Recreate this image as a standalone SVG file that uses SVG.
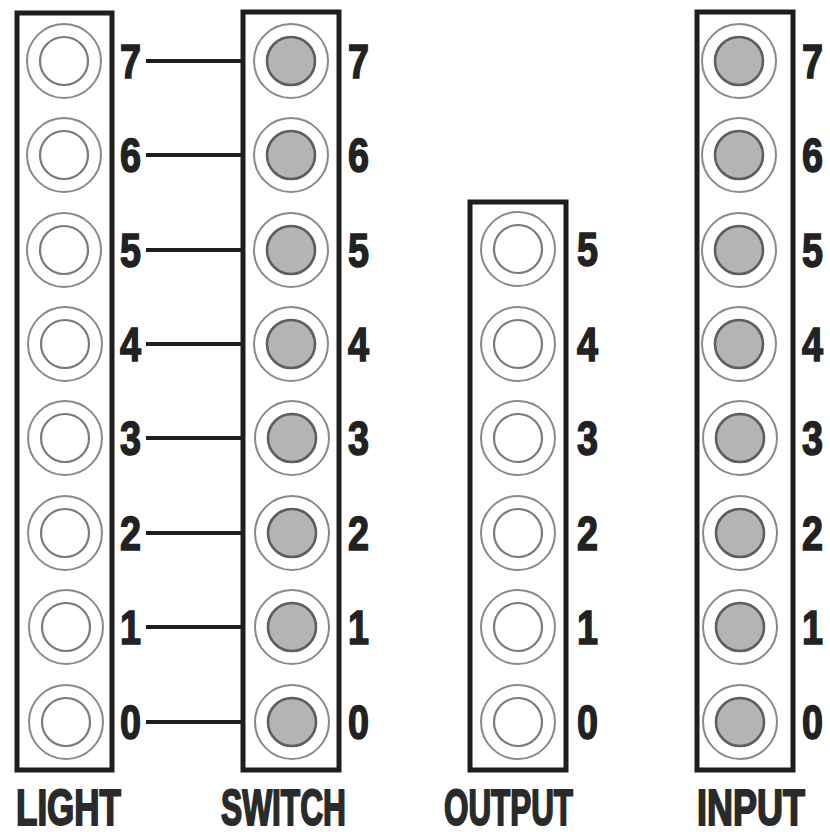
<svg xmlns="http://www.w3.org/2000/svg" width="830" height="832" viewBox="0 0 830 832">
  <style>
    .box { fill: #ffffff; stroke: #1e1e1e; stroke-width: 5; }
    .ring { fill: #ffffff; stroke: #8a8a8a; stroke-width: 2; }
    .hole { fill: #ffffff; stroke: #7a7a7a; stroke-width: 2.2; }
    .lamp { fill: #b4b4b4; stroke: #5e5e5e; stroke-width: 2.6; }
    .num { font-family: "Liberation Sans", Arial, sans-serif; font-weight: bold; font-size: 49px; fill: #222222; stroke: #222222; stroke-width: 1.6; }
    .title { font-family: "Liberation Sans", Arial, sans-serif; font-weight: bold; font-size: 50px; fill: #2a2a2a; stroke: #2a2a2a; stroke-width: 2; }
    .wire { stroke: #1e1e1e; stroke-width: 4; fill: none; }
  </style>
  <defs>
    <g id="emptyCell">
      <circle class="ring" r="37"/>
      <circle class="hole" r="24"/>
    </g>
    <g id="litCell">
      <circle class="ring" r="37"/>
      <circle class="lamp" r="24"/>
    </g>
  </defs>
  <rect width="830" height="832" fill="#ffffff"/>

  <!-- wires between LIGHT labels and SWITCH panel -->
  <g id="connectors">
    <line class="wire" x1="146" y1="61" x2="243" y2="61"/>
    <line class="wire" x1="146" y1="155" x2="243" y2="155"/>
    <line class="wire" x1="146" y1="250" x2="243" y2="250"/>
    <line class="wire" x1="146" y1="344" x2="243" y2="344"/>
    <line class="wire" x1="146" y1="438" x2="243" y2="438"/>
    <line class="wire" x1="146" y1="533" x2="243" y2="533"/>
    <line class="wire" x1="146" y1="627" x2="243" y2="627"/>
    <line class="wire" x1="146" y1="722" x2="243" y2="722"/>
  </g>

  <!-- LIGHT panel -->
  <g id="light">
    <rect class="box" x="17" y="13" width="95" height="757"/>
    <use href="#emptyCell" x="64" y="61"/>
    <use href="#emptyCell" x="64" y="155"/>
    <use href="#emptyCell" x="64" y="250"/>
    <use href="#emptyCell" x="65" y="344"/>
    <use href="#emptyCell" x="65" y="438"/>
    <use href="#emptyCell" x="65" y="533"/>
    <use href="#emptyCell" x="66" y="627"/>
    <use href="#emptyCell" x="66" y="722"/>
    <text class="num" x="120" y="78" textLength="21" lengthAdjust="spacingAndGlyphs">7</text>
    <text class="num" x="120" y="172" textLength="21" lengthAdjust="spacingAndGlyphs">6</text>
    <text class="num" x="120" y="267" textLength="21" lengthAdjust="spacingAndGlyphs">5</text>
    <text class="num" x="120" y="361" textLength="21" lengthAdjust="spacingAndGlyphs">4</text>
    <text class="num" x="120" y="455" textLength="21" lengthAdjust="spacingAndGlyphs">3</text>
    <text class="num" x="120" y="550" textLength="21" lengthAdjust="spacingAndGlyphs">2</text>
    <text class="num" x="120" y="644" textLength="21" lengthAdjust="spacingAndGlyphs">1</text>
    <text class="num" x="120" y="739" textLength="21" lengthAdjust="spacingAndGlyphs">0</text>
    <text class="title" x="16" y="825" textLength="105" lengthAdjust="spacingAndGlyphs">LIGHT</text>
  </g>

  <!-- SWITCH panel -->
  <g id="switch">
    <rect class="box" x="243" y="12" width="96" height="758"/>
    <use href="#litCell" x="291" y="61"/>
    <use href="#litCell" x="291" y="155"/>
    <use href="#litCell" x="291" y="250"/>
    <use href="#litCell" x="291" y="344"/>
    <use href="#litCell" x="292" y="438"/>
    <use href="#litCell" x="292" y="533"/>
    <use href="#litCell" x="292" y="627"/>
    <use href="#litCell" x="292" y="722"/>
    <text class="num" x="348" y="78" textLength="21" lengthAdjust="spacingAndGlyphs">7</text>
    <text class="num" x="348" y="172" textLength="21" lengthAdjust="spacingAndGlyphs">6</text>
    <text class="num" x="348" y="267" textLength="21" lengthAdjust="spacingAndGlyphs">5</text>
    <text class="num" x="348" y="361" textLength="21" lengthAdjust="spacingAndGlyphs">4</text>
    <text class="num" x="348" y="455" textLength="21" lengthAdjust="spacingAndGlyphs">3</text>
    <text class="num" x="348" y="550" textLength="21" lengthAdjust="spacingAndGlyphs">2</text>
    <text class="num" x="348" y="644" textLength="21" lengthAdjust="spacingAndGlyphs">1</text>
    <text class="num" x="348" y="739" textLength="21" lengthAdjust="spacingAndGlyphs">0</text>
    <text class="title" x="221" y="825" textLength="125" lengthAdjust="spacingAndGlyphs">SWITCH</text>
  </g>

  <!-- OUTPUT panel -->
  <g id="output">
    <rect class="box" x="470" y="202" width="96" height="568"/>
    <use href="#emptyCell" x="518" y="249"/>
    <use href="#emptyCell" x="518" y="344"/>
    <use href="#emptyCell" x="518" y="438"/>
    <use href="#emptyCell" x="518" y="533"/>
    <use href="#emptyCell" x="518" y="627"/>
    <use href="#emptyCell" x="518" y="722"/>
    <text class="num" x="577" y="266" textLength="21" lengthAdjust="spacingAndGlyphs">5</text>
    <text class="num" x="577" y="361" textLength="21" lengthAdjust="spacingAndGlyphs">4</text>
    <text class="num" x="577" y="455" textLength="21" lengthAdjust="spacingAndGlyphs">3</text>
    <text class="num" x="577" y="550" textLength="21" lengthAdjust="spacingAndGlyphs">2</text>
    <text class="num" x="577" y="644" textLength="21" lengthAdjust="spacingAndGlyphs">1</text>
    <text class="num" x="577" y="739" textLength="21" lengthAdjust="spacingAndGlyphs">0</text>
    <text class="title" x="444" y="825" textLength="129" lengthAdjust="spacingAndGlyphs">OUTPUT</text>
  </g>

  <!-- INPUT panel -->
  <g id="input">
    <rect class="box" x="697" y="12" width="96" height="758"/>
    <use href="#litCell" x="739" y="61"/>
    <use href="#litCell" x="739" y="155"/>
    <use href="#litCell" x="739" y="250"/>
    <use href="#litCell" x="739" y="344"/>
    <use href="#litCell" x="740" y="438"/>
    <use href="#litCell" x="740" y="533"/>
    <use href="#litCell" x="740" y="627"/>
    <use href="#litCell" x="740" y="722"/>
    <text class="num" x="802" y="78" textLength="21" lengthAdjust="spacingAndGlyphs">7</text>
    <text class="num" x="802" y="172" textLength="21" lengthAdjust="spacingAndGlyphs">6</text>
    <text class="num" x="802" y="267" textLength="21" lengthAdjust="spacingAndGlyphs">5</text>
    <text class="num" x="802" y="361" textLength="21" lengthAdjust="spacingAndGlyphs">4</text>
    <text class="num" x="802" y="455" textLength="21" lengthAdjust="spacingAndGlyphs">3</text>
    <text class="num" x="802" y="550" textLength="21" lengthAdjust="spacingAndGlyphs">2</text>
    <text class="num" x="802" y="644" textLength="21" lengthAdjust="spacingAndGlyphs">1</text>
    <text class="num" x="802" y="739" textLength="21" lengthAdjust="spacingAndGlyphs">0</text>
    <text class="title" x="697" y="825" textLength="108" lengthAdjust="spacingAndGlyphs">INPUT</text>
  </g>
</svg>
